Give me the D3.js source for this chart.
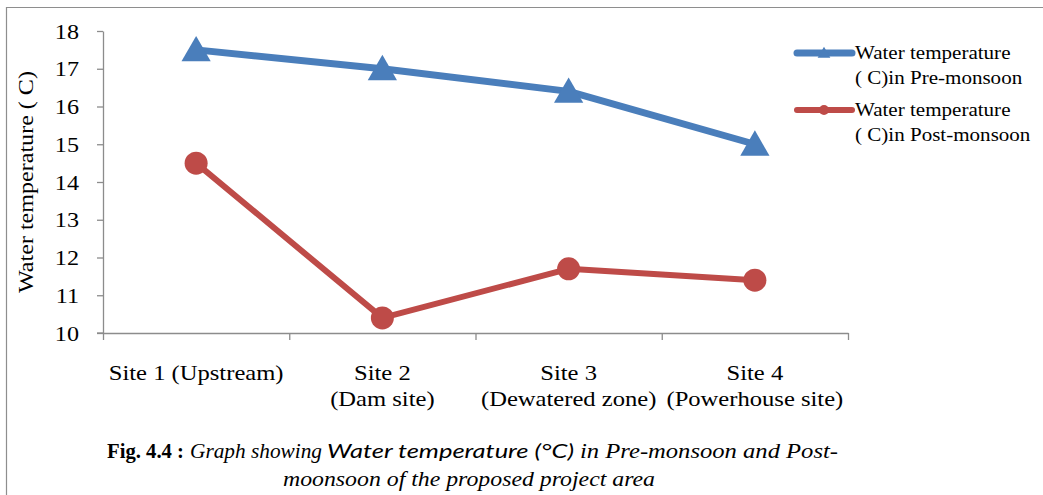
<!DOCTYPE html>
<html>
<head>
<meta charset="utf-8">
<script src="https://cdn.jsdelivr.net/npm/d3@7"></script>
<style>
  html, body { margin: 0; padding: 0; background: #fff; }
  svg { display: block; }
</style>
</head>
<body>
<svg id="chart" width="1043" height="495"></svg>
<script>
// Sampling sites along the river
const sites = ["Site 1 (Upstream)", "Site 2\n(Dam site)", "Site 3\n(Dewatered zone)", "Site 4\n(Powerhouse site)"];
// Water temperature (°C) per site
const preMonsoon = [17.5, 17.0, 16.4, 15.0];
const postMonsoon = [14.5, 10.4, 11.7, 11.4];
const yTicks = [10, 11, 12, 13, 14, 15, 16, 17, 18];
const seriesNames = ["Water temperature\n( C)in Pre-monsoon", "Water temperature\n( C)in Post-monsoon"];

const SERIF = "'Liberation Serif', 'Times New Roman', serif";
const svg = d3.select("#chart");
const plot = { left: 103, right: 848, top: 31, bottom: 333 };
const blue = "#4a7ebb", red = "#be4b48", axisGrey = "#8c8c8c";

// Place a (possibly multi-line) label at (x, y) with a horizontal stretch
function label(parent, str, x, y, opts) {
  const t = parent.append("text")
    .attr("transform", `translate(${x},${y}) rotate(${opts.rotate || 0}) scale(${opts.sx || 1},1)`)
    .attr("text-anchor", opts.anchor || "start")
    .style("font-family", SERIF)
    .style("font-size", opts.size + "px")
    .attr("fill", "#000");
  str.split("\n").forEach((ln, i) => {
    t.append("tspan").attr("x", 0).attr("dy", i === 0 ? 0 : opts.lh || 0).text(ln);
  });
  return t;
}

// Outer frame
svg.append("path")
  .attr("d", "M6.5,495 L6.5,7.5 L1043,7.5")
  .attr("fill", "none").attr("stroke", "#8e8e8e").attr("stroke-width", 1.2);

const x = d3.scaleBand().domain(sites).range([plot.left, plot.right]);
const xEdge = d3.scaleLinear().domain([0, sites.length]).range([plot.left, plot.right]);
const y = d3.scaleLinear().domain([10, 18]).range([plot.bottom, plot.top]);

// Y axis
const yAxis = svg.append("g")
  .attr("transform", `translate(${plot.left},0)`)
  .call(d3.axisLeft(y).tickValues(yTicks).tickSize(6).tickSizeOuter(0).tickFormat(""));
yAxis.select(".domain").attr("stroke", axisGrey).attr("stroke-width", 1.3);
yAxis.selectAll(".tick line").attr("stroke", axisGrey).attr("stroke-width", 1.3);
const yLab = svg.append("g");
yTicks.forEach(v => label(yLab, String(v), 79, y(v) + 7.5, { size: 21, sx: 1.15, anchor: "end" }));

// X axis: tick marks on category boundaries
const xAxis = svg.append("g")
  .attr("transform", `translate(0,${plot.bottom})`)
  .call(d3.axisBottom(xEdge).tickValues(d3.range(0, sites.length + 1)).tickSize(7).tickSizeOuter(0).tickFormat(""));
xAxis.select(".domain").attr("stroke", axisGrey).attr("stroke-width", 1.3);
xAxis.selectAll(".tick line").attr("stroke", axisGrey).attr("stroke-width", 1.3);
svg.append("line")
  .attr("x1", plot.left - 6).attr("x2", plot.left)
  .attr("y1", plot.bottom).attr("y2", plot.bottom)
  .attr("stroke", axisGrey).attr("stroke-width", 1.3);

// X category labels
const xLab = svg.append("g");
sites.forEach(s => label(xLab, s, x(s) + x.bandwidth() / 2, 380, { size: 20.5, sx: 1.2, anchor: "middle", lh: 26 }));

// Y axis title
label(svg, "Water temperature ( C)", 33, 182, { size: 21.5, sx: 1.12, anchor: "middle", rotate: -90 });

const cx = (d, i) => x(sites[i]) + x.bandwidth() / 2;
const line = d3.line().x((d, i) => cx(d, i)).y(d => y(d));

// Pre-monsoon series
svg.append("path").datum(preMonsoon)
  .attr("d", line).attr("fill", "none")
  .attr("stroke", blue).attr("stroke-width", 7).attr("stroke-linejoin", "round");
const triangle = d3.symbol().type(d3.symbolTriangle).size(370);
svg.append("g").selectAll("path").data(preMonsoon).join("path")
  .attr("d", triangle)
  .attr("transform", (d, i) => `translate(${cx(d, i)},${y(d) + 3})`)
  .attr("fill", blue);

// Post-monsoon series
svg.append("path").datum(postMonsoon)
  .attr("d", line).attr("fill", "none")
  .attr("stroke", red).attr("stroke-width", 6).attr("stroke-linejoin", "round");
svg.append("g").selectAll("circle").data(postMonsoon).join("circle")
  .attr("cx", (d, i) => cx(d, i)).attr("cy", d => y(d))
  .attr("r", 11.5).attr("fill", red);

// Legend
const legend = svg.append("g");
const legendItems = [
  { name: seriesNames[0], color: blue, width: 7, marker: "tri", y: 53 },
  { name: seriesNames[1], color: red, width: 6, marker: "dot", y: 110 }
];
legendItems.forEach(item => {
  legend.append("line")
    .attr("x1", 797).attr("x2", 852).attr("y1", item.y).attr("y2", item.y)
    .attr("stroke", item.color).attr("stroke-width", item.width).attr("stroke-linecap", "round");
  if (item.marker === "tri") {
    legend.append("path").attr("d", d3.symbol().type(d3.symbolTriangle).size(70))
      .attr("transform", `translate(824,${item.y + 1})`).attr("fill", item.color);
  } else {
    legend.append("circle").attr("cx", 824).attr("cy", item.y).attr("r", 5).attr("fill", item.color);
  }
  label(legend, item.name, 855, item.y + 6, { size: 19.5, sx: 1.08, lh: 25.5 });
});

// Figure caption
const capSegments = [
  { text: "Fig. 4.4 :", x: 107, w: 77, weight: "bold", style: "normal", family: SERIF, size: 21 },
  { text: "Graph showing", x: 190, w: 132, weight: "normal", style: "italic", family: SERIF, size: 21 },
  { text: "Water temperature (°C)", x: 327, w: 247, weight: "normal", style: "italic", family: "Lato, 'Open Sans', sans-serif", size: 18.5 },
  { text: "in  Pre-monsoon and Post-", x: 580, w: 258, weight: "normal", style: "italic", family: SERIF, size: 21 }
];
capSegments.forEach(s => {
  svg.append("text")
    .attr("x", s.x).attr("y", 458)
    .attr("textLength", s.w).attr("lengthAdjust", "spacingAndGlyphs")
    .style("font-family", s.family).style("font-size", s.size + "px")
    .style("font-weight", s.weight).style("font-style", s.style)
    .attr("fill", "#000")
    .text(s.text);
});
svg.append("text")
  .attr("x", 283).attr("y", 486)
  .attr("textLength", 372).attr("lengthAdjust", "spacingAndGlyphs")
  .style("font-family", SERIF).style("font-size", "21px").style("font-style", "italic")
  .attr("fill", "#000")
  .text("moonsoon of the proposed project area");
</script>
</body>
</html>
